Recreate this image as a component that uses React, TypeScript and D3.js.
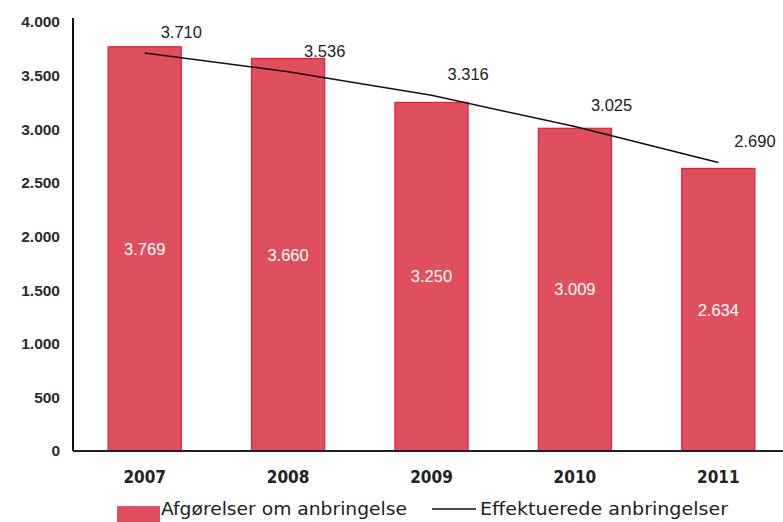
import React from 'react';
import * as d3 from 'd3';

const years = ['2007', '2008', '2009', '2010', '2011'];
const decisions = [3769, 3660, 3250, 3009, 2634];
const effected = [3710, 3536, 3316, 3025, 2690];
const yTicks = [0, 500, 1000, 1500, 2000, 2500, 3000, 3500, 4000];
const legendLabels = ['Afgørelser om anbringelse', 'Effektuerede anbringelser'];

const width = 783;
const height = 522;
const left = 73;
const top = 22;
const bottom = 451;

const fmt = (v: number) => d3.format(',')(v).replace(/,/g, '.');

const App = () => {
  const x = d3.scaleBand<string>()
    .domain(years)
    .range([left, 790])
    .paddingInner(0.49)
    .paddingOuter(0.245);

  const y = d3.scaleLinear().domain([0, 4000]).range([bottom, top]);

  const cx = (i: number) => (x(years[i]) ?? 0) + x.bandwidth() / 2;

  const line = d3.line<number>()
    .x((_, i) => cx(i))
    .y(d => y(d));

  const numFont = 'Arial, "Liberation Sans", sans-serif';
  const narrowFont = '"DejaVu Sans Condensed", "Liberation Sans Narrow", sans-serif';

  return (
    <svg width={width} height={height} style={{ position: 'absolute', left: 0, top: 0, background: '#fff' }}>
      {/* y tick labels */}
      {yTicks.map(t => (
        <text key={t} x={60} y={y(t)} dy="0.35em" textAnchor="end"
          fontFamily={numFont} fontSize={15.5} fontWeight="bold" fill="#2a2a2a">
          {fmt(t)}
        </text>
      ))}

      {/* bars */}
      {decisions.map((v, i) => (
        <g key={years[i]}>
          <rect x={x(years[i])} y={y(v)} width={x.bandwidth()} height={bottom - y(v)}
            fill="#e04f5e" stroke="#ee1a30" strokeWidth={1.2} />
          <text x={cx(i)} y={(y(v) + bottom) / 2} dy="0.35em" textAnchor="middle"
            fontFamily={numFont} fontSize={16.5} fill="#fff">
            {fmt(v)}
          </text>
        </g>
      ))}

      {/* axes */}
      <line x1={left} x2={left} y1={18} y2={bottom} stroke="#111" strokeWidth={2} />
      <line x1={left} x2={width} y1={bottom} y2={bottom} stroke="#222" strokeWidth={2} />

      {/* x labels */}
      {years.map((yr, i) => (
        <text key={yr} x={cx(i)} y={477} dy="0.35em" textAnchor="middle"
          fontFamily={narrowFont} fontSize={17} fontWeight="bold" fill="#222">
          {yr}
        </text>
      ))}

      {/* effected line */}
      <path d={line(effected) ?? ''} fill="none" stroke="#111" strokeWidth={1.5} />
      {effected.map((v, i) => (
        <text key={i} x={cx(i) + 16} y={y(v) - 21} dy="0.35em"
          fontFamily={numFont} fontSize={16.5} fill="#222">
          {fmt(v)}
        </text>
      ))}

      {/* legend */}
      <rect x={117} y={506} width={43} height={16} fill="#e04f5e" />
      <text x={161} y={509} dy="0.35em" fontFamily={narrowFont} fontSize={18} fill="#222"
        textLength={246} lengthAdjust="spacingAndGlyphs">
        {legendLabels[0]}
      </text>
      <line x1={432} x2={476} y1={509} y2={509} stroke="#111" strokeWidth={1.5} />
      <text x={480} y={509} dy="0.35em" fontFamily={narrowFont} fontSize={18} fill="#222"
        textLength={248} lengthAdjust="spacingAndGlyphs">
        {legendLabels[1]}
      </text>
    </svg>
  );
};

export default App;
